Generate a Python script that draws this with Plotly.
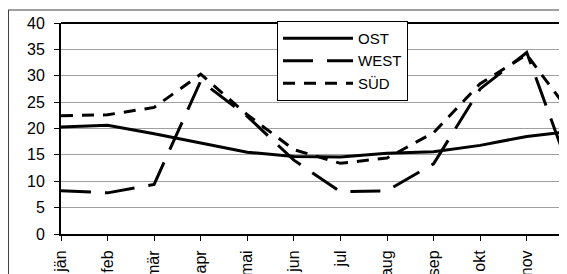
import plotly.graph_objects as go

months = ["jän", "feb", "mär", "apr", "mai", "jun", "jul", "aug", "sep", "okt", "nov", "dez"]
ost = [20.3, 20.6, 19.0, 17.2, 15.5, 14.7, 14.6, 15.3, 15.6, 16.8, 18.5, 19.5]
west = [8.2, 7.8, 9.4, 29.0, 22.3, 14.0, 8.0, 8.2, 13.3, 27.5, 34.4, 10.2]
sued = [22.4, 22.6, 24.0, 30.3, 22.6, 16.0, 13.4, 14.4, 19.2, 28.5, 34.0, 22.2]

fig = go.Figure()
x = list(range(len(months)))
fig.add_trace(go.Scatter(x=x, y=ost, name="OST", mode="lines",
                         line=dict(color="black", width=3)))
fig.add_trace(go.Scatter(x=x, y=west, name="WEST", mode="lines",
                         line=dict(color="black", width=3, dash="30px,14px")))
fig.add_trace(go.Scatter(x=x, y=sued, name="SÜD", mode="lines",
                         line=dict(color="black", width=3, dash="12px,9px")))

# page body has an 8px margin, so the figure is placed at (8, 8)
L, T, W, H = 53, 15, 506, 211
fig.update_layout(
    width=559, height=266,
    margin=dict(l=L, r=559 - L - W, t=T, b=266 - T - H, autoexpand=False),
    paper_bgcolor="white", plot_bgcolor="white",
    font=dict(family="Liberation Sans, Arial", size=16, color="black"),
    showlegend=True,
    legend=dict(x=(277 - 61) / W, y=1.01, xanchor="left", yanchor="top",
                bgcolor="white", bordercolor="black", borderwidth=1,
                itemwidth=70, tracegroupgap=0,
                font=dict(size=15)),
    xaxis=dict(range=[0, 10.865], tickmode="array", tickvals=x, ticktext=months,
               tickangle=-90, showgrid=False, zeroline=False, automargin=False,
               showline=True, linecolor="black", linewidth=2,
               ticks="outside", ticklen=5, tickcolor="black", tickwidth=1,
               ticklabelstandoff=3),
    yaxis=dict(range=[0, 40], tickvals=[0, 5, 10, 15, 20, 25, 30, 35, 40],
               showgrid=True, gridcolor="#a0a0a0", gridwidth=1, zeroline=False,
               automargin=False,
               showline=True, linecolor="black", linewidth=2,
               ticks="outside", ticklen=5, tickcolor="black", tickwidth=1,
               ticklabelstandoff=6),
    shapes=[
        dict(type="line", xref="paper", yref="paper", x0=0, x1=1.1,
             y0=1, y1=1, line=dict(color="black", width=2), layer="below"),
        dict(type="line", xref="paper", yref="paper", x0=-L / W, x1=1.2,
             y0=1 + (T - 2) / H, y1=1 + (T - 2) / H, line=dict(color="#404040", width=1)),
        dict(type="line", xref="paper", yref="paper", x0=-L / W + 0.5 / W, x1=-L / W + 0.5 / W,
             y0=1 + (T - 2) / H, y1=-0.3, line=dict(color="#404040", width=1)),
    ],
)

fig.write_html("out.html")
